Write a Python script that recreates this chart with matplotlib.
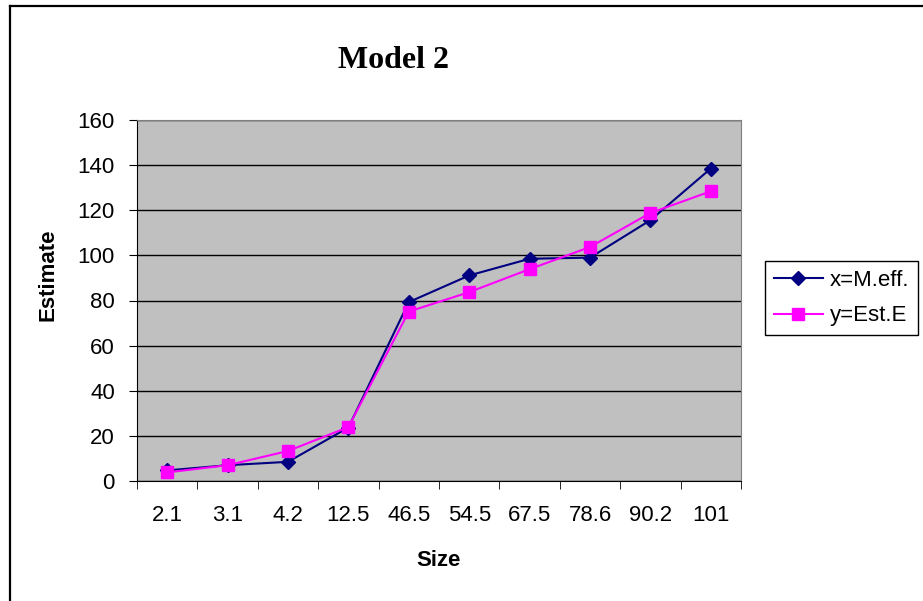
import matplotlib
matplotlib.use("Agg")
import matplotlib.pyplot as plt
from matplotlib.lines import Line2D

# --- data --- #
sizes = ["2.1", "3.1", "4.2", "12.5", "46.5", "54.5", "67.5", "78.6", "90.2", "101"]
m_eff = [4.7, 7.0, 8.5, 23.7, 79.3, 91.1, 98.5, 99.0, 115.6, 138.5]
est_e = [3.8, 7.0, 13.3, 23.9, 75.1, 83.7, 93.9, 103.7, 118.8, 128.4]

W, H = 923, 601
fig = plt.figure(figsize=(W/100, H/100), dpi=100)
fig.patch.set_facecolor("white")

# outer chart frame (only top and left edges are visible in the crop)
fig.lines.append(Line2D([10/W, 1], [1-6/H, 1-6/H], transform=fig.transFigure, color="black", linewidth=1.6))
fig.lines.append(Line2D([10/W, 10/W], [0, 1-6/H], transform=fig.transFigure, color="black", linewidth=1.6))

ax = fig.add_axes([137/W, 1-481/H, 604/W, 361/H])
ax.set_facecolor("#C0C0C0")

x = list(range(len(sizes)))
ax.plot(x, m_eff, color="#000080", marker="D", markersize=7, linewidth=1.5, label="x=M.eff.")
ax.plot(x, est_e, color="#FF00FF", marker="s", markersize=8, linewidth=1.5, label="y=Est.E")

ax.set_ylim(0, 160)
ax.set_yticks(range(0, 161, 20))
ax.set_xlim(-0.5, len(sizes)-0.5)
ax.set_xticks(x)
ax.set_xticklabels(sizes)
ax.set_xticks([i-0.5 for i in range(len(sizes)+1)], minor=True)
ax.tick_params(axis="x", which="major", length=0, pad=17, labelsize=16)
ax.tick_params(axis="x", which="minor", length=6, direction="out", color="black")
ax.tick_params(axis="y", length=6, direction="out", labelsize=16, pad=10)
ax.yaxis.grid(True, color="black", linewidth=1)
ax.set_axisbelow(True)

for side in ["top", "right"]:
	ax.spines[side].set_color("#808080")
for side in ["left", "bottom"]:
	ax.spines[side].set_color("black")

for t in ax.get_xticklabels() + ax.get_yticklabels():
	t.set_family("Liberation Sans")

ax.set_xlabel("Size", fontsize=16, fontweight="bold", family="Liberation Sans", va="center")
ax.xaxis.set_label_coords(0.5, (481-560)/361)
ax.set_ylabel("Estimate", fontsize=16, fontweight="bold", family="Liberation Sans", va="center")
ax.yaxis.set_label_coords((48-137)/604, (481-275)/361)

fig.text(394/W, 1-60/H, "Model 2", ha="center", va="center", fontsize=23,
         fontweight="bold", family="Liberation Serif")

leg = fig.legend(loc="upper left", bbox_to_anchor=(765/W, 1-261/H), frameon=True,
                 fancybox=False, edgecolor="black", framealpha=1,
                 prop={"family": "Liberation Sans", "size": 16},
                 handlelength=2.2, borderpad=0.4, labelspacing=0.65, handletextpad=0.3,
                 borderaxespad=0)
leg.get_frame().set_linewidth(1)

fig.savefig("out.png", dpi=100)
